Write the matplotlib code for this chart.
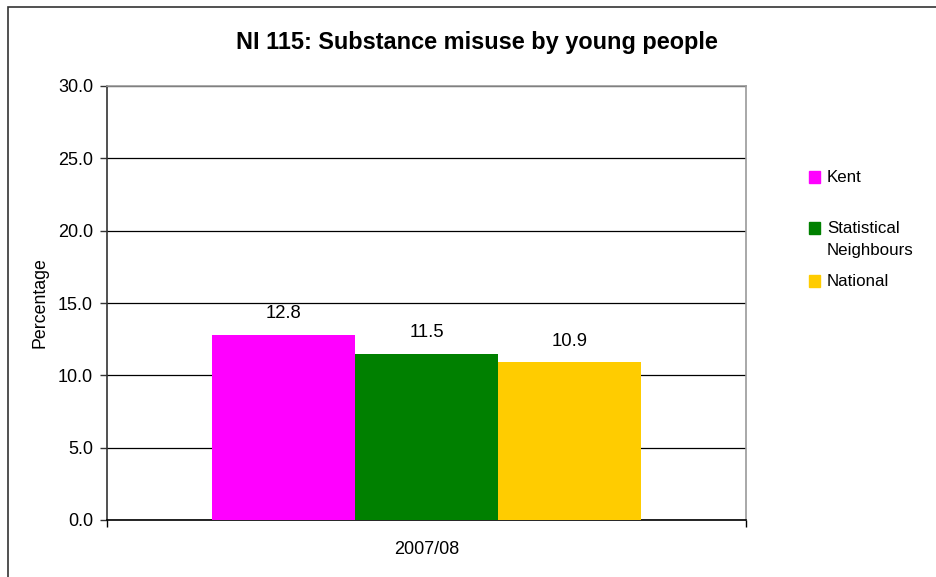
import matplotlib.pyplot as plt
from matplotlib.patches import Rectangle

# chart data
title = 'NI 115: Substance misuse by young people'
category = '2007/08'
series_names = ['Kent', 'Statistical\nNeighbours', 'National']
series_values = [12.8, 11.5, 10.9]
series_colors = ['#FF00FF', '#008000', '#FFCC00']
y_ticks = [0, 5, 10, 15, 20, 25, 30]

plt.rcParams['font.family'] = ['Liberation Sans', 'DejaVu Sans']

fig = plt.figure(figsize=(9.37, 5.77), dpi=100)
ax = fig.add_axes([107 / 937, 1 - 520 / 577, 639 / 937, 434 / 577])

bar_w = 143 / 639
offsets = [-bar_w, 0, bar_w]
for name, val, col, off in zip(series_names, series_values, series_colors, offsets):
    ax.bar(off, val, width=bar_w, color=col, zorder=3)
    ax.annotate(f'{val:.1f}', (off, val), xytext=(0, 9), textcoords='offset points',
                ha='center', va='bottom', fontsize=13.3)

ax.set_xlim(-0.5, 0.5)
ax.set_ylim(0, 30)
ax.set_yticks(y_ticks)
ax.set_yticklabels([f'{t:.1f}' for t in y_ticks], fontsize=13)
ax.yaxis.grid(True, color='black', linewidth=0.9, zorder=0)
ax.set_axisbelow(True)

ax.set_xticks([-0.5, 0.5])
ax.set_xticklabels(['', ''])
ax.set_xticks([0], minor=True)
ax.set_xticklabels([category], minor=True, fontsize=13)
ax.tick_params(axis='x', which='minor', length=0, pad=15)
ax.tick_params(axis='x', which='major', length=5, width=1, color='black', direction='out')
ax.tick_params(axis='y', length=5, width=1, color='#333333', pad=5)

ax.spines['left'].set_color('#333333')
ax.spines['bottom'].set_color('black')
ax.spines['top'].set_color('#9a9a9a')
ax.spines['right'].set_color('#9a9a9a')
for s in ax.spines.values():
    s.set_linewidth(1.2)

ax.set_ylabel('Percentage', fontsize=12.8, labelpad=7)
fig.text(477 / 937, 1 - 43 / 577, title, ha='center', va='center',
         fontsize=16.9, fontweight='bold')

# legend drawn by hand (Excel style, handle aligned with first line)
legend_y = [177, 228, 281]
for name, col, y in zip(series_names, series_colors, legend_y):
    fig.patches.append(Rectangle((809 / 937, 1 - (y + 6) / 577), 11 / 937, 12 / 577,
                                 transform=fig.transFigure, color=col))
    fig.text(827 / 937, 1 - (y - 7) / 577, name, ha='left', va='top',
             fontsize=12.2, linespacing=1.55)

# outer chart border
fig.patches.append(Rectangle((8 / 937, -0.1), 1.2, 1 - 7 / 577 + 0.1,
                             transform=fig.transFigure, fill=False,
                             edgecolor='#333333', linewidth=1.2))

fig.savefig('out.png', dpi=100)
